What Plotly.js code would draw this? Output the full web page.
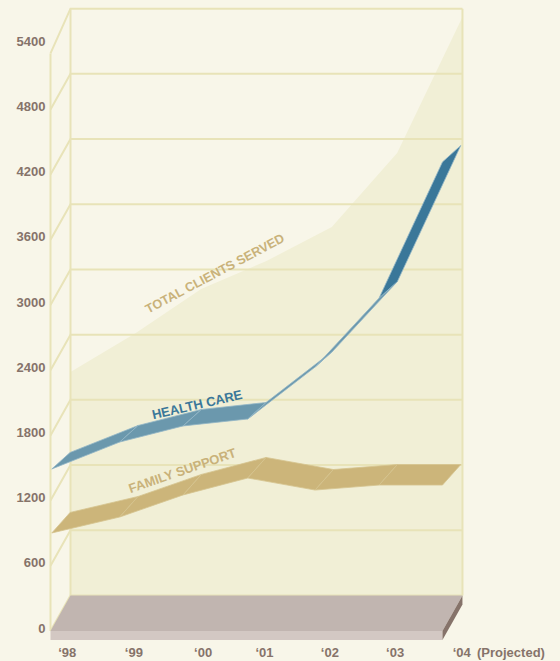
<!DOCTYPE html>
<html><head><meta charset="utf-8">
<script src="https://cdn.plot.ly/plotly-3.0.1.min.js"></script>
<style>html,body{margin:0;padding:0;background:#f8f6e9}#c{width:560px;height:661px}</style>
</head><body><div id="c"></div>
<script>
// values
const yearSlots   = [1998, 1999, 2000, 2001, 2002, 2003, 2004];
const ribbonYears = [1998.02, 1999.06, 2000.03, 2001.02, 2002.05, 2003.03, 2004];
const familySupport = [902, 1049, 1252, 1408, 1297, 1343, 1343];
const healthCare    = [1491, 1739, 1887, 1951, 2429, 3064, 4316];
const totalClients  = [2383, 2742, 3147, 3405, 3718, 4399, 5650];
const yTicks = [0, 600, 1200, 1800, 2400, 3000, 3600, 4200, 4800, 5400];
const xTickPos = [1997.98, 1999, 2000.06, 2001, 2002, 2003, 2004.02];
const xTickText = ['\u201898', '\u201899', '\u201800', '\u201801', '\u201802', '\u201803', '\u201804'];

// pseudo-3D depth, in axis units
const wallDX = 0.306, wallDY = 327;
const ribDX = 0.28, famDY = 189, hlthDY = 152;
const x0 = 1998, x1 = 2004;
const topFront = 5315, slabBottom = -83, sideBottom = 245;

const BG = '#f8f6e9', GRID = '#e8e3b8', AREA = '#f1efd6', TICK = '#86736a';
const traces = [];
function poly(x, y, fill, lineColor, w) {
  traces.push({type:'scatter', mode:'lines', x, y, fill:'toself', fillcolor:fill,
    line:{color:lineColor || fill, width:lineColor ? (w||1) : 0, simplify:false},
    hoverinfo:'skip', showlegend:false});
}
function line(x, y, color, w) {
  traces.push({type:'scatter', mode:'lines', x, y, line:{color, width:w, simplify:false},
    hoverinfo:'skip', showlegend:false});
}

// total clients area on the back wall
const backYears = yearSlots.map(v => v + wallDX);
poly([backYears[0], ...backYears, backYears[6]], [wallDY, ...totalClients, wallDY], AREA);

// grid and frame
yTicks.forEach(v => {
  const front = v === 5400 ? topFront : v;
  line([x0, x0 + wallDX, x1 + wallDX], [front, v + wallDY, v + wallDY], GRID, 2);
});
line([x0, x0], [0, topFront], GRID, 2);
line([x0 + wallDX, x0 + wallDX], [wallDY, 5400 + wallDY], GRID, 2);
line([x1 + wallDX, x1 + wallDX], [wallDY, 5400 + wallDY], GRID, 2);

// floor slab
poly([x0, x1, x1 + wallDX, x0 + wallDX, x0], [0, 0, wallDY, wallDY, 0], '#c1b5b0');
poly([x0, x1, x1, x0, x0], [0, 0, slabBottom, slabBottom, 0], '#d3c8c3');
poly([x1, x1 + wallDX, x1 + wallDX, x1, x1], [0, wallDY, sideBottom, slabBottom, 0], '#86736a');

// ribbons
function ribbon(vals, dy, colorAt, edge) {
  for (let i = 0; i < vals.length - 1; i++) {
    poly([ribbonYears[i], ribbonYears[i+1], ribbonYears[i+1] + ribDX, ribbonYears[i] + ribDX, ribbonYears[i]],
         [vals[i], vals[i+1], vals[i+1] + dy, vals[i] + dy, vals[i]], colorAt(i), edge, 0.8);
  }
}
ribbon(familySupport, famDY, () => '#ccb57a', '#d6c48f');
ribbon(healthCare, hlthDY, i => i === 5 ? '#3a7799' : '#6b98ad', '#93b6c7');

const data = traces;
const layout = {
  width:560, height:661, paper_bgcolor:BG, plot_bgcolor:BG,
  margin:{l:0,r:0,t:0,b:0,pad:0}, showlegend:false,
  font:{family:'Arial, "Liberation Sans", sans-serif', color:TICK},
  xaxis:{range:[1997.227, 2005.799], tickmode:'array', tickvals:xTickPos, ticktext:xTickText,
    anchor:'free', position:0.0318, showline:false, showgrid:false, zeroline:false, ticks:'',
    ticklabelshift:18, ticklabelstandoff:3, automargin:false,
    tickfont:{family:'Arial, "Liberation Sans", sans-serif', size:13, color:TICK, weight:'bold'}},
  yaxis:{range:[-276.07, 5806.7], tickmode:'array', tickvals:yTicks, ticktext:yTicks.map(String),
    anchor:'free', position:0.0902, showline:false, showgrid:false, zeroline:false, ticks:'',
    ticklabelshift:-3, ticklabelstandoff:5, automargin:false,
    tickfont:{family:'Arial, "Liberation Sans", sans-serif', size:13, color:TICK, weight:'bold'}},
  annotations:[
    {text:'TOTAL CLIENTS SERVED', x:2000.51, y:3290, textangle:-28, color:'#c9b27a', size:12.8},
    {text:'HEALTH CARE', x:2000.25, y:2085, textangle:-13, color:'#3a7799', size:13},
    {text:'FAMILY SUPPORT', x:2000.02, y:1476, textangle:-19, color:'#c9b27a', size:13},
    {text:'(Projected)', x:2005.05, y:-200, textangle:0, color:TICK, size:13}
  ].map(a => ({x:a.x, y:a.y, xref:'x', yref:'y', text:a.text, textangle:a.textangle, showarrow:false,
    xanchor:'center', yanchor:'middle',
    font:{family:'Arial, "Liberation Sans", sans-serif', size:a.size, color:a.color, weight:'bold'}}))
};
Plotly.newPlot('c', data, layout, {displayModeBar:false, staticPlot:true});
</script></body></html>
